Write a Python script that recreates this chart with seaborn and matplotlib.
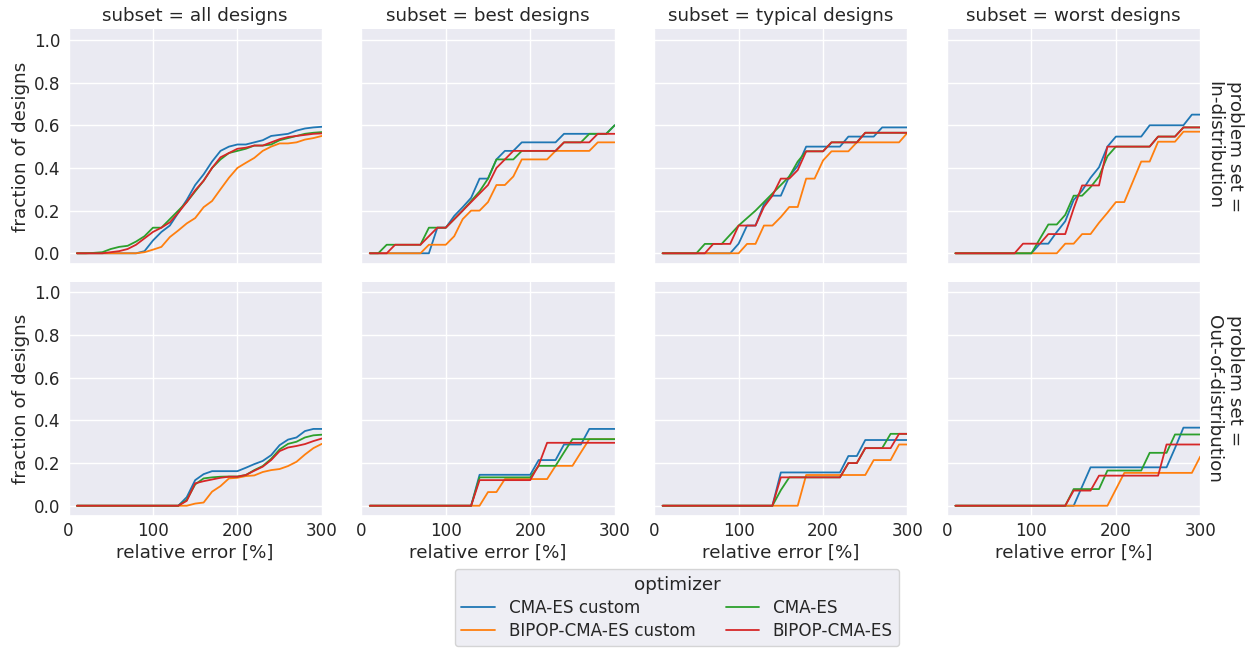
import numpy as np
import pandas as pd
import seaborn as sns
import matplotlib
matplotlib.use("Agg")
import matplotlib.pyplot as plt

# ---------------- data ----------------
X = [10, 20, 30, 40, 50, 60, 70, 80, 90, 100,
     110, 120, 130, 140, 150, 160, 170, 180, 190, 200,
     210, 220, 230, 240, 250, 260, 270, 280, 290, 300]

optimizers = ["CMA-ES custom", "BIPOP-CMA-ES custom", "CMA-ES", "BIPOP-CMA-ES"]
subsets = ["all designs", "best designs", "typical designs", "worst designs"]
problem_sets = ["In-distribution", "Out-of-distribution"]

# In-distribution
id_all_cma_custom = [0, 0, 0, 0, 0, 0, 0, 0, 0.01, 0.06, 0.10, 0.13, 0.19, 0.25, 0.32, 0.37, 0.43, 0.48, 0.50, 0.51,
                     0.51, 0.52, 0.53, 0.55, 0.555, 0.56, 0.575, 0.585, 0.59, 0.593]
id_all_bipop_custom = [0, 0, 0, 0, 0, 0, 0, 0, 0.005, 0.017, 0.03, 0.076, 0.107, 0.14, 0.165, 0.216, 0.245, 0.30, 0.354, 0.40,
                       0.424, 0.447, 0.48, 0.50, 0.515, 0.515, 0.52, 0.533, 0.54, 0.55]
id_all_cma = [0, 0, 0.002, 0.005, 0.02, 0.03, 0.035, 0.055, 0.08, 0.12, 0.12, 0.16, 0.20, 0.24, 0.29, 0.34, 0.40, 0.44, 0.47, 0.48,
              0.49, 0.505, 0.505, 0.51, 0.53, 0.54, 0.55, 0.56, 0.565, 0.568]
id_all_bipop = [0, 0, 0, 0, 0.005, 0.01, 0.02, 0.04, 0.07, 0.10, 0.12, 0.145, 0.19, 0.24, 0.295, 0.34, 0.40, 0.45, 0.47, 0.49,
                0.495, 0.505, 0.505, 0.52, 0.535, 0.545, 0.55, 0.555, 0.56, 0.562]

id_best_cma_custom = [0, 0, 0, 0, 0, 0, 0, 0, 0.12, 0.12, 0.175, 0.216, 0.26, 0.35, 0.35, 0.44, 0.48, 0.48, 0.52, 0.52,
                      0.52, 0.52, 0.52, 0.56, 0.56, 0.56, 0.56, 0.56, 0.56, 0.60]
id_best_bipop_custom = [0, 0, 0, 0, 0, 0, 0, 0.04, 0.04, 0.04, 0.08, 0.16, 0.20, 0.20, 0.24, 0.32, 0.32, 0.36, 0.44, 0.44,
                        0.44, 0.44, 0.48, 0.48, 0.48, 0.48, 0.48, 0.52, 0.52, 0.52]
id_best_cma = [0, 0, 0.04, 0.04, 0.04, 0.04, 0.04, 0.12, 0.12, 0.12, 0.16, 0.20, 0.245, 0.29, 0.35, 0.44, 0.44, 0.44, 0.48, 0.48,
               0.48, 0.48, 0.48, 0.52, 0.52, 0.52, 0.56, 0.56, 0.56, 0.60]
id_best_bipop = [0, 0, 0, 0.04, 0.04, 0.04, 0.04, 0.08, 0.12, 0.12, 0.16, 0.20, 0.24, 0.28, 0.32, 0.40, 0.44, 0.48, 0.48, 0.48,
                 0.48, 0.48, 0.48, 0.52, 0.52, 0.52, 0.52, 0.56, 0.56, 0.56]

id_typ_cma_custom = [0, 0, 0, 0, 0, 0, 0, 0, 0, 0.045, 0.13, 0.13, 0.23, 0.27, 0.27, 0.36, 0.41, 0.50, 0.50, 0.50,
                     0.50, 0.50, 0.547, 0.547, 0.547, 0.547, 0.59, 0.59, 0.59, 0.59]
id_typ_bipop_custom = [0, 0, 0, 0, 0, 0, 0, 0, 0, 0, 0.044, 0.044, 0.13, 0.13, 0.17, 0.217, 0.217, 0.35, 0.35, 0.435,
                       0.478, 0.478, 0.478, 0.52, 0.52, 0.52, 0.52, 0.52, 0.52, 0.565]
id_typ_cma = [0, 0, 0, 0, 0, 0.044, 0.044, 0.044, 0.087, 0.13, 0.165, 0.20, 0.24, 0.28, 0.32, 0.36, 0.43, 0.478, 0.478, 0.478,
              0.52, 0.52, 0.52, 0.52, 0.565, 0.565, 0.565, 0.565, 0.565, 0.565]
id_typ_bipop = [0, 0, 0, 0, 0, 0, 0.044, 0.044, 0.044, 0.13, 0.13, 0.13, 0.217, 0.27, 0.35, 0.35, 0.39, 0.478, 0.478, 0.478,
                0.52, 0.52, 0.52, 0.52, 0.565, 0.565, 0.565, 0.565, 0.565, 0.565]

id_worst_cma_custom = [0, 0, 0, 0, 0, 0, 0, 0, 0, 0, 0.045, 0.045, 0.10, 0.15, 0.25, 0.294, 0.354, 0.403, 0.50, 0.547,
                       0.547, 0.547, 0.547, 0.60, 0.60, 0.60, 0.60, 0.60, 0.65, 0.65]
id_worst_bipop_custom = [0, 0, 0, 0, 0, 0, 0, 0, 0, 0, 0, 0, 0, 0.045, 0.045, 0.09, 0.09, 0.143, 0.19, 0.24,
                         0.24, 0.335, 0.43, 0.43, 0.523, 0.523, 0.523, 0.57, 0.57, 0.57]
id_worst_cma = [0, 0, 0, 0, 0, 0, 0, 0, 0, 0, 0.068, 0.135, 0.135, 0.18, 0.27, 0.27, 0.31, 0.36, 0.455, 0.50,
                0.50, 0.50, 0.50, 0.50, 0.547, 0.547, 0.547, 0.59, 0.59, 0.59]
id_worst_bipop = [0, 0, 0, 0, 0, 0, 0, 0, 0.045, 0.045, 0.045, 0.09, 0.09, 0.09, 0.21, 0.318, 0.318, 0.318, 0.50, 0.50,
                  0.50, 0.50, 0.50, 0.50, 0.547, 0.547, 0.547, 0.59, 0.59, 0.59]

# Out-of-distribution
ood_all_cma_custom = [0, 0, 0, 0, 0, 0, 0, 0, 0, 0, 0, 0, 0, 0.04, 0.12, 0.148, 0.162, 0.162, 0.162, 0.162,
                      0.178, 0.195, 0.21, 0.237, 0.284, 0.31, 0.32, 0.35, 0.36, 0.36]
ood_all_bipop_custom = [0, 0, 0, 0, 0, 0, 0, 0, 0, 0, 0, 0, 0, 0, 0.01, 0.015, 0.066, 0.092, 0.128, 0.131,
                        0.139, 0.142, 0.158, 0.167, 0.172, 0.186, 0.206, 0.24, 0.27, 0.29]
ood_all_cma = [0, 0, 0, 0, 0, 0, 0, 0, 0, 0, 0, 0, 0, 0.027, 0.10, 0.128, 0.133, 0.136, 0.137, 0.137,
               0.144, 0.167, 0.186, 0.22, 0.264, 0.29, 0.30, 0.32, 0.33, 0.333]
ood_all_bipop = [0, 0, 0, 0, 0, 0, 0, 0, 0, 0, 0, 0, 0, 0.023, 0.105, 0.115, 0.123, 0.131, 0.136, 0.136,
                 0.144, 0.164, 0.183, 0.214, 0.256, 0.273, 0.28, 0.289, 0.303, 0.315]

ood_best_cma_custom = [0, 0, 0, 0, 0, 0, 0, 0, 0, 0, 0, 0, 0, 0.145, 0.145, 0.145, 0.145, 0.145, 0.145, 0.145,
                       0.214, 0.214, 0.214, 0.287, 0.287, 0.287, 0.36, 0.36, 0.36, 0.36]
ood_best_bipop_custom = [0, 0, 0, 0, 0, 0, 0, 0, 0, 0, 0, 0, 0, 0, 0.064, 0.064, 0.125, 0.125, 0.125, 0.125,
                         0.125, 0.125, 0.187, 0.187, 0.187, 0.25, 0.312, 0.312, 0.312, 0.312]
ood_best_cma = [0, 0, 0, 0, 0, 0, 0, 0, 0, 0, 0, 0, 0, 0.133, 0.133, 0.133, 0.133, 0.133, 0.133, 0.133,
                0.187, 0.187, 0.187, 0.25, 0.312, 0.312, 0.312, 0.312, 0.312, 0.312]
ood_best_bipop = [0, 0, 0, 0, 0, 0, 0, 0, 0, 0, 0, 0, 0, 0.12, 0.12, 0.12, 0.12, 0.12, 0.12, 0.12,
                  0.19, 0.295, 0.295, 0.295, 0.295, 0.295, 0.295, 0.295, 0.295, 0.295]

ood_typ_cma_custom = [0, 0, 0, 0, 0, 0, 0, 0, 0, 0, 0, 0, 0, 0, 0.156, 0.156, 0.156, 0.156, 0.156, 0.156,
                      0.156, 0.156, 0.233, 0.233, 0.308, 0.308, 0.308, 0.308, 0.308, 0.308]
ood_typ_bipop_custom = [0, 0, 0, 0, 0, 0, 0, 0, 0, 0, 0, 0, 0, 0, 0, 0, 0, 0.144, 0.144, 0.144,
                        0.144, 0.144, 0.144, 0.144, 0.144, 0.214, 0.214, 0.214, 0.287, 0.287]
ood_typ_cma = [0, 0, 0, 0, 0, 0, 0, 0, 0, 0, 0, 0, 0, 0, 0.073, 0.133, 0.133, 0.133, 0.133, 0.133,
               0.133, 0.133, 0.20, 0.20, 0.27, 0.27, 0.27, 0.337, 0.337, 0.337]
ood_typ_bipop = [0, 0, 0, 0, 0, 0, 0, 0, 0, 0, 0, 0, 0, 0, 0.133, 0.133, 0.133, 0.133, 0.133, 0.133,
                 0.133, 0.133, 0.20, 0.20, 0.27, 0.27, 0.27, 0.27, 0.337, 0.337]

ood_worst_cma_custom = [0, 0, 0, 0, 0, 0, 0, 0, 0, 0, 0, 0, 0, 0, 0, 0.09, 0.18, 0.18, 0.18, 0.18,
                        0.18, 0.18, 0.18, 0.18, 0.18, 0.18, 0.27, 0.366, 0.366, 0.366]
ood_worst_bipop_custom = [0, 0, 0, 0, 0, 0, 0, 0, 0, 0, 0, 0, 0, 0, 0, 0, 0, 0, 0, 0.077,
                          0.154, 0.154, 0.154, 0.154, 0.154, 0.154, 0.154, 0.154, 0.154, 0.231]
ood_worst_cma = [0, 0, 0, 0, 0, 0, 0, 0, 0, 0, 0, 0, 0, 0, 0.078, 0.078, 0.078, 0.078, 0.165, 0.165,
                 0.165, 0.165, 0.165, 0.248, 0.248, 0.248, 0.334, 0.334, 0.334, 0.334]
ood_worst_bipop = [0, 0, 0, 0, 0, 0, 0, 0, 0, 0, 0, 0, 0, 0, 0.071, 0.071, 0.071, 0.141, 0.141, 0.141,
                   0.141, 0.141, 0.141, 0.141, 0.141, 0.287, 0.287, 0.287, 0.287, 0.287]

series = {
    ("In-distribution", "all designs"): [id_all_cma_custom, id_all_bipop_custom, id_all_cma, id_all_bipop],
    ("In-distribution", "best designs"): [id_best_cma_custom, id_best_bipop_custom, id_best_cma, id_best_bipop],
    ("In-distribution", "typical designs"): [id_typ_cma_custom, id_typ_bipop_custom, id_typ_cma, id_typ_bipop],
    ("In-distribution", "worst designs"): [id_worst_cma_custom, id_worst_bipop_custom, id_worst_cma, id_worst_bipop],
    ("Out-of-distribution", "all designs"): [ood_all_cma_custom, ood_all_bipop_custom, ood_all_cma, ood_all_bipop],
    ("Out-of-distribution", "best designs"): [ood_best_cma_custom, ood_best_bipop_custom, ood_best_cma, ood_best_bipop],
    ("Out-of-distribution", "typical designs"): [ood_typ_cma_custom, ood_typ_bipop_custom, ood_typ_cma, ood_typ_bipop],
    ("Out-of-distribution", "worst designs"): [ood_worst_cma_custom, ood_worst_bipop_custom, ood_worst_cma, ood_worst_bipop],
}

rows = []
for (ps, sub), vals in series.items():
    for opt, ys in zip(optimizers, vals):
        for x, y in zip(X, ys):
            rows.append({"problem set": ps, "subset": sub, "optimizer": opt,
                         "relative error [%]": x, "fraction of designs": y})
df = pd.DataFrame(rows)

# ---------------- plot ----------------
sns.set_theme(style="darkgrid", font_scale=1.1,
              rc={"xtick.major.size": 0.5, "ytick.major.size": 2.5,
                  "axes.labelpad": 3.0})

g = sns.relplot(
    data=df, x="relative error [%]", y="fraction of designs",
    hue="optimizer", hue_order=optimizers,
    row="problem set", row_order=problem_sets,
    col="subset", col_order=subsets,
    kind="line", palette="tab10", linewidth=1.3,
    height=3, aspect=1.08,
    facet_kws=dict(margin_titles=True, xlim=(0, 300), ylim=(-0.05, 1.05)),
)

g.set_titles(col_template="subset = {col_name}", row_template="problem set =\n{row_name}")
g.set_axis_labels("relative error [%]", "fraction of designs")
g.set(xticks=[0, 100, 200, 300], yticks=[0.0, 0.2, 0.4, 0.6, 0.8, 1.0])

fig = g.figure
fig.set_size_inches(12.48, 6.48)
fig.subplots_adjust(left=0.0549, right=0.9618, top=0.9548, bottom=0.2031,
                    wspace=0.156, hspace=0.0758)

sns.move_legend(g, "lower center", bbox_to_anchor=(0.5425, 0.0), ncol=2,
                frameon=True, title="optimizer", borderaxespad=0.1,
                labelspacing=0.3, columnspacing=1.8)

fig.savefig("out.png", dpi=100)
